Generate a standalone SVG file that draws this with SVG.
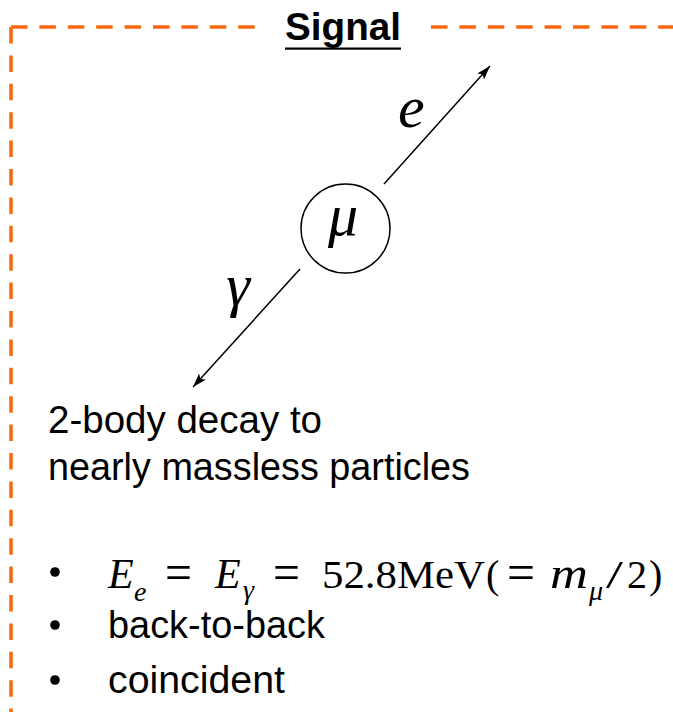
<svg xmlns="http://www.w3.org/2000/svg" width="673" height="712" viewBox="0 0 673 712">
<style>
.frame{fill:none;stroke:#F7680F;stroke-width:3.5;stroke-dasharray:16.5 11.9}
.sans{font-family:"Liberation Sans",Arial,sans-serif;fill:#000}
.serif{font-family:"Liberation Serif","Times New Roman",serif;fill:#000}
.it{font-style:italic}
.body{font-size:38px}
.math{font-size:40px}
.eq{font-size:52px}
.sub{font-size:28px}
.conn{stroke:#000;stroke-width:1.5;fill:none}
</style>
<defs>
<marker id="arrow" markerUnits="userSpaceOnUse" markerWidth="15" markerHeight="11" refX="14" refY="5.5" orient="auto">
<path d="M0,1 L14,5.5 L0,10 L3,5.5 z" fill="#000"/>
</marker>
</defs>
<rect width="673" height="712" fill="#fff"/>
<g id="frame">
<path class="frame" d="M11,27 H264"/>
<path class="frame" d="M431,27 H673"/>
<path class="frame" d="M11,27 V712"/>
</g>
<g id="title">
<text class="sans" x="285" y="39.5" font-size="38.5" font-weight="bold" textLength="116" lengthAdjust="spacingAndGlyphs">Signal</text>
<rect x="285" y="47.5" width="116" height="2.2" fill="#000"/>
</g>
<g id="connectors">
<line class="conn" x1="384" y1="184" x2="490" y2="66" marker-end="url(#arrow)"/>
<line class="conn" x1="300" y1="269" x2="193" y2="387" marker-end="url(#arrow)"/>
</g>
<g id="muon">
<circle cx="345.5" cy="228.5" r="44.5" fill="none" stroke="#000" stroke-width="1.5"/>
<text class="serif it" x="343" y="235" font-size="60" text-anchor="middle">μ</text>
</g>
<g id="electron">
<text class="serif it" x="398" y="127" font-size="60">e</text>
</g>
<g id="photon">
<text class="serif it" x="238" y="305" font-size="60" text-anchor="middle">γ</text>
</g>
<g id="description">
<text class="sans body" x="48" y="433" textLength="274" lengthAdjust="spacingAndGlyphs">2-body decay to</text>
<text class="sans body" x="48" y="480" textLength="422" lengthAdjust="spacingAndGlyphs">nearly massless particles</text>
</g>
<g id="bullets">
<circle cx="55" cy="572" r="4.8" fill="#000"/>
<circle cx="55" cy="625" r="4.8" fill="#000"/>
<circle cx="55" cy="680" r="4.8" fill="#000"/>
<g id="energy">
<text class="serif it" x="108" y="588" font-size="42">E</text>
<text class="serif it sub" x="134" y="601">e</text>
<text class="serif eq" x="165" y="590" textLength="27" lengthAdjust="spacingAndGlyphs">=</text>
<text class="serif it" x="215" y="588" font-size="42">E</text>
<text class="serif it sub" x="243" y="599">γ</text>
<text class="serif eq" x="273" y="590" textLength="27" lengthAdjust="spacingAndGlyphs">=</text>
<text class="serif math" x="322" y="588" textLength="163" lengthAdjust="spacingAndGlyphs">52.8MeV</text>
<text class="serif math" x="486" y="588">(</text>
<text class="serif eq" x="507" y="590" textLength="28" lengthAdjust="spacingAndGlyphs">=</text>
<text class="serif it" x="550" y="588" font-size="44" textLength="38" lengthAdjust="spacingAndGlyphs">m</text>
<text class="serif it sub" x="589" y="600">μ</text>
<text class="serif math" x="606" y="588" textLength="17" lengthAdjust="spacingAndGlyphs">/</text>
<text class="serif math" x="627" y="588" textLength="20" lengthAdjust="spacingAndGlyphs">2</text>
<text class="serif math" x="649" y="588">)</text>
</g>
<text class="sans body" x="108" y="638" textLength="217" lengthAdjust="spacingAndGlyphs">back-to-back</text>
<text class="sans body" x="108" y="693" textLength="177" lengthAdjust="spacingAndGlyphs">coincident</text>
</g>
</svg>
